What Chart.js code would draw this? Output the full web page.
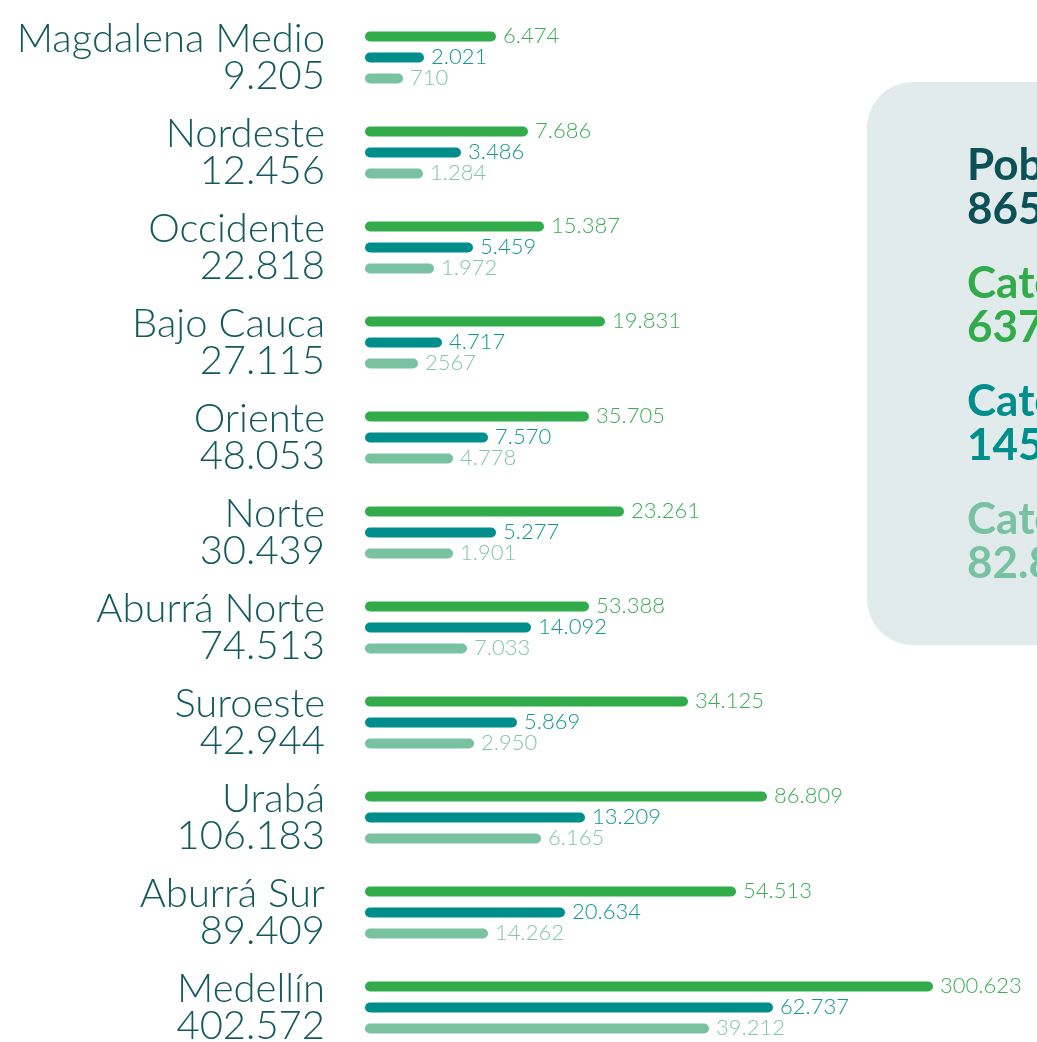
<!DOCTYPE html>
<html lang="es">
<head>
<meta charset="utf-8">
<script src="https://cdn.jsdelivr.net/npm/chart.js@4.4.1/dist/chart.umd.min.js"></script>
<style>
  html, body { margin: 0; padding: 0; overflow: hidden; background: #fff; }
  #wrap { position: relative; width: 1037px; height: 1042px; overflow: hidden; }
  #chart { position: absolute; left: 0; top: 0; }
  #panel {
    position: absolute; left: 867px; top: 82px; width: 330px; height: 563px;
    background: #e1ebec; border-radius: 46px; box-sizing: border-box;
    padding: 59px 0 0 100px; white-space: nowrap;
    font-family: Lato, "Open Sans", sans-serif; font-weight: 700;
    font-size: 44px; line-height: 44px;
  }
  #panel .blk { margin-bottom: 30px; }
</style>
</head>
<body>
<div id="wrap">
  <canvas id="chart" width="1037" height="1055"></canvas>
  <div id="panel"></div>
</div>
<script>
// regions and their totals (left labels)
const regions = ["Magdalena Medio", "Nordeste", "Occidente", "Bajo Cauca", "Oriente", "Norte",
  "Aburrá Norte", "Suroeste", "Urabá", "Aburrá Sur", "Medellín"];
const totals = ["9.205", "12.456", "22.818", "27.115", "48.053", "30.439",
  "74.513", "42.944", "106.183", "89.409", "402.572"];

// printed values per category
const cat1Text = ["6.474", "7.686", "15.387", "19.831", "35.705", "23.261", "53.388", "34.125", "86.809", "54.513", "300.623"];
const cat2Text = ["2.021", "3.486", "5.459", "4.717", "7.570", "5.277", "14.092", "5.869", "13.209", "20.634", "62.737"];
const cat3Text = ["710", "1.284", "1.972", "2567", "4.778", "1.901", "7.033", "2.950", "6.165", "14.262", "39.212"];

// bar lengths as drawn in the picture (the graphic is not to scale), chart units
const cat1Len = [131, 163, 179, 240, 224, 259, 224, 323, 402, 371, 568];
const cat2Len = [59, 96, 108, 77, 123, 131, 166, 152, 220, 200, 408];
const cat3Len = [38, 58, 69, 53, 88, 88, 102, 109, 176, 123, 344];

// summary box
const summaryTitles = ["Población", "Categoría 1", "Categoría 2", "Categoría 3"];
const summaryValues = ["865.707", "637.802", "145.071", "82.834"];

const colors = ["#32ab4b", "#008e8c", "#78c2a2"];
const labelColors = ["#3aae54", "#129795", "#82c7a9"];
const nameColor = "#14595e";
const summaryColors = ["#0b5157", "#32ab4b", "#008e8c", "#78c2a2"];

const panel = document.getElementById("panel");
summaryTitles.forEach((t, i) => {
  const d = document.createElement("div");
  d.className = "blk";
  d.style.color = summaryColors[i];
  d.innerHTML = t + "<br>" + summaryValues[i];
  panel.appendChild(d);
});

const valueLabels = {
  id: "valueLabels",
  afterDatasetsDraw(chart) {
    const ctx = chart.ctx;
    ctx.save();
    ctx.font = "300 22px Lato, 'Open Sans', sans-serif";
    ctx.textBaseline = "middle";
    ctx.textAlign = "left";
    chart.data.datasets.forEach((ds, i) => {
      ctx.fillStyle = labelColors[i];
      chart.getDatasetMeta(i).data.forEach((bar, j) => {
        ctx.fillText(ds.printed[j], bar.x + 7, bar.y - 1);
      });
    });
    ctx.restore();
  }
};

const mkSet = (len, txt, i) => ({
  data: len,
  printed: txt,
  backgroundColor: colors[i],
  borderRadius: 5,
  borderSkipped: false,
  categoryPercentage: 0.663,
  barPercentage: 1,
  maxBarThickness: 10
});

new Chart(document.getElementById("chart"), {
  type: "bar",
  data: {
    labels: regions.map((r, i) => [r, totals[i]]),
    datasets: [
      mkSet(cat1Len, cat1Text, 0),
      mkSet(cat2Len, cat2Text, 1),
      mkSet(cat3Len, cat3Text, 2)
    ]
  },
  options: {
    indexAxis: "y",
    responsive: false,
    animation: false,
    layout: { padding: { top: 10, right: 0, bottom: 0, left: 0 } },
    plugins: { legend: { display: false }, tooltip: { enabled: false } },
    scales: {
      x: { display: false, min: 0, max: 672 },
      y: {
        grid: { display: false, drawTicks: false },
        border: { display: false },
        afterFit: s => {
          s.width = 365;
          s.paddingTop = 0;
          s.paddingBottom = 0;
        },
        ticks: {
          padding: 40,
          color: nameColor,
          font: { family: "Lato, 'Open Sans', sans-serif", size: 40, weight: 300, lineHeight: 0.92 }
        }
      }
    }
  },
  plugins: [valueLabels]
});
</script>
</body>
</html>
